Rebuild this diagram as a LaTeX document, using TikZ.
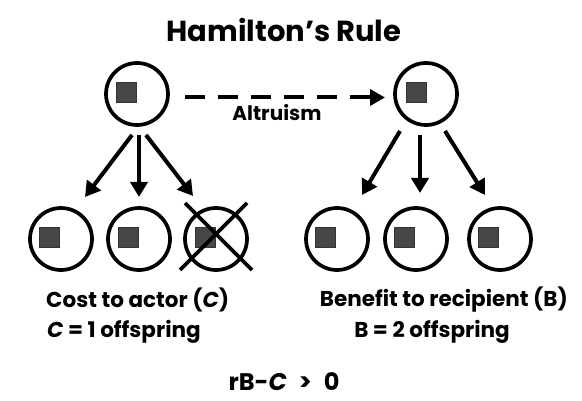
\documentclass[tikz,border=0pt]{standalone}
\usepackage{fontspec}
\setmainfont{Poppins}
\usetikzlibrary{arrows.meta}
\begin{document}
\begin{tikzpicture}[x=1pt,y=-1pt,
  cell/.style={circle,draw=black,line width=3.7pt,minimum size=62pt,inner sep=0pt},
  nucleus/.style={draw=black!80,line width=0.8pt,fill=black!72,minimum size=20pt,inner sep=0pt},
  birth/.style={line width=4pt,-{Triangle[length=15pt,width=17pt]}},
  help/.style={line width=4pt,dash pattern=on 20pt off 13pt,-{Triangle[length=15pt,width=16pt]}},
  crossline/.style={line width=3.7pt},
  lbl/.style={font=\bfseries\fontsize{21.5}{23}\selectfont,inner sep=0pt},
  altl/.style={font=\bfseries\fontsize{20}{22}\selectfont,inner sep=0pt},
  rulel/.style={font=\bfseries\fontsize{24}{26}\selectfont,inner sep=0pt},
  ttl/.style={font=\bfseries\fontsize{29}{31}\selectfont,inner sep=0pt}]
\useasboundingbox (0,0) rectangle (582,401);
\fill[white] (0,0) rectangle (582,401);
% title
\node[ttl] (title) at (284,30) {Hamilton’s Rule};
% parents
\node[cell] (pa) at (137,94) {};
\node[cell] (pb) at (426,94) {};
\node[nucleus] (na) at (126.5,92.5) {};
\node[nucleus] (nb) at (416,92.5) {};
% children
\node[cell] (a1) at (61,239) {};
\node[cell] (a2) at (139,239) {};
\node[cell] (a3) at (216,239) {};
\node[cell] (b1) at (337,239) {};
\node[cell] (b2) at (416,239) {};
\node[cell] (b3) at (500,239) {};
\foreach \c/\x in {a1/49,a2/128,a3/205,b1/325.5,b2/404.5,b3/488.5}
  \node[nucleus] (n\c) at (\x,237) {};
% cross
\coordinate (x1) at (185,203); \coordinate (x2) at (252,270);
\coordinate (x3) at (247,203); \coordinate (x4) at (180,270);
\draw[crossline] (x1) -- (x2);
\draw[crossline] (x3) -- (x4);
% arrow ends
\coordinate (sa1) at (132,135); \coordinate (ea1) at (85,197);
\coordinate (sa2) at (139,135); \coordinate (ea2) at (139,197);
\coordinate (sa3) at (146,135); \coordinate (ea3) at (193,196);
\coordinate (sb1) at (400,131); \coordinate (eb1) at (362,195);
\coordinate (sb2) at (420,135); \coordinate (eb2) at (420,193);
\coordinate (sb3) at (445,131); \coordinate (eb3) at (485,195);
\foreach \s in {a1,a2,a3,b1,b2,b3}
  \draw[birth] (s\s) -- (e\s);
% altruism
\coordinate (hs) at (185,97.5); \coordinate (he) at (385,97.5);
\draw[help] (hs) -- (he);
\node[altl] (alt) at (277,113) {Altruism};
% labels
\node[lbl,anchor=west] (cost) at (46,300) {Cost to actor (\textit{C})};
\node[lbl,anchor=east] (ben) at (568,300) {Benefit to recipient (B)};
\node[lbl,anchor=west] (ceq) at (47,332) {\textit{C} = 1 offspring};
\node[lbl] (beq) at (432,332) {B = 2 offspring};
\node[rulel] (rule) at (284,382) {rB-\textit{C}\enspace>\enspace0};
\end{tikzpicture}
\end{document}
